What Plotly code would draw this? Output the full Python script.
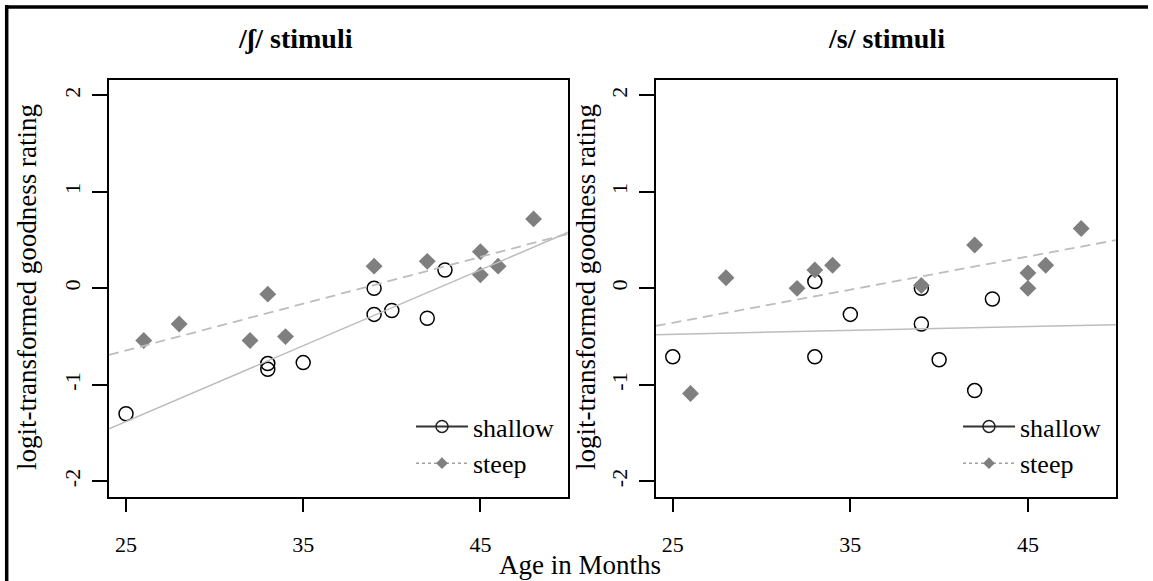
import plotly.graph_objects as go

# ---------------- data ----------------
shallow_age = [25, 33, 33, 35, 39, 39, 40, 42, 43]
shallow_sh = [-1.30, -0.78, -0.84, -0.77, 0.00, -0.27, -0.23, -0.31, 0.19]
shallow_s = [-0.71, 0.07, -0.71, -0.27, 0.00, -0.37, -0.74, -1.06, -0.11]

steep_age = [26, 28, 32, 33, 34, 39, 42, 45, 45, 46, 48]
steep_sh = [-0.54, -0.37, -0.54, -0.06, -0.50, 0.23, 0.28, 0.38, 0.14, 0.23, 0.72]
steep_s = [-1.09, 0.11, 0.00, 0.19, 0.24, 0.03, 0.45, 0.16, 0.00, 0.24, 0.62]

# fitted lines: values at the two ends of the age axis
fit_age = [24.04, 49.96]
fit_shallow_sh = [-1.455, 0.581]
fit_steep_sh = [-0.691, 0.566]
fit_shallow_s = [-0.48, -0.377]
fit_steep_s = [-0.39, 0.50]

x_ticks = [25, 35, 45]
x_tick_labels = ["25", "35", "45"]
y_ticks = [-2, -1, 0, 1, 2]
y_tick_labels = ["-2", "-1", "0", "1", "2"]
panel_titles = ["/ʃ/ stimuli", "/s/ stimuli"]
x_title = "Age in Months"
y_title = "logit-transformed goodness rating"
series_names = ["shallow", "steep"]

# ---------------- styling ----------------
W, H = 1153, 581
FONT = "Liberation Serif, Times New Roman, DejaVu Serif, serif"


def fx(p):
    return p / W


def fy(p):
    return 1 - p / H


fig = go.Figure()

panels = [
    (shallow_sh, steep_sh, fit_shallow_sh, fit_steep_sh, "x", "y", "legend"),
    (shallow_s, steep_s, fit_shallow_s, fit_steep_s, "x2", "y2", "legend2"),
]

for sh_vals, st_vals, fit_sh, fit_st, xa, ya, lg in panels:
    fig.add_trace(go.Scatter(
        x=shallow_age, y=sh_vals, mode="markers", xaxis=xa, yaxis=ya,
        showlegend=False,
        marker=dict(symbol="circle-open", size=14, color="black",
                    line=dict(width=1.5, color="black")),
    ))
    fig.add_trace(go.Scatter(
        x=steep_age, y=st_vals, mode="markers", xaxis=xa, yaxis=ya,
        showlegend=False,
        marker=dict(symbol="diamond", size=13, color="#7f7f7f",
                    line=dict(width=0)),
    ))
    fig.add_trace(go.Scatter(
        x=fit_age, y=fit_sh, mode="lines", xaxis=xa, yaxis=ya,
        showlegend=False, line=dict(color="#bdbdbd", width=1.5),
    ))
    fig.add_trace(go.Scatter(
        x=fit_age, y=fit_st, mode="lines", xaxis=xa, yaxis=ya,
        showlegend=False,
        line=dict(color="#bdbdbd", width=1.8, dash="10px,6px"),
    ))
    # legend-only entries
    fig.add_trace(go.Scatter(
        x=[None], y=[None], mode="lines+markers", xaxis=xa, yaxis=ya,
        name=series_names[0], legend=lg,
        line=dict(color="#333333", width=2),
        marker=dict(symbol="circle-open", size=12, color="#222222",
                    line=dict(width=1.5, color="#222222")),
    ))
    fig.add_trace(go.Scatter(
        x=[None], y=[None], mode="lines+markers", xaxis=xa, yaxis=ya,
        name=series_names[1], legend=lg,
        line=dict(color="#a0a0a0", width=1.5, dash="dot"),
        marker=dict(symbol="diamond", size=9, color="#7f7f7f",
                    line=dict(width=0)),
    ))

xcommon = dict(
    range=[24.04, 49.96], tickvals=x_ticks, ticktext=x_tick_labels,
    ticks="outside", ticklen=14,
    tickwidth=1.5, tickcolor="black", showline=True, linecolor="black",
    linewidth=1.5, mirror=True, showgrid=False, zeroline=False,
    tickfont=dict(family=FONT, size=22, color="black"),
    ticklabelstandoff=13,
)
ycommon = dict(
    range=[-2.16, 2.16], tickvals=y_ticks, ticktext=y_tick_labels,
    ticks="outside", ticklen=15,
    tickwidth=1.5, tickcolor="black", showline=True, linecolor="black",
    linewidth=1.5, mirror=True, showgrid=False, zeroline=False,
    tickangle=-90,
    tickfont=dict(family=FONT, size=22, color="black"),
    ticklabelstandoff=3,
)

y_dom = [fy(496.7), fy(80)]
fig.update_layout(
    width=W, height=H,
    margin=dict(l=0, r=0, t=0, b=0),
    paper_bgcolor="white", plot_bgcolor="white",
    font=dict(family=FONT, color="black"),
    xaxis=dict(domain=[fx(109), fx(568.3)], anchor="y", **xcommon),
    yaxis=dict(domain=y_dom, anchor="x", **ycommon),
    xaxis2=dict(domain=[fx(655.7), fx(1116)], anchor="y2", **xcommon),
    yaxis2=dict(domain=y_dom, anchor="x2", **ycommon),
    legend=dict(x=fx(411), y=fy(403), xanchor="left", yanchor="top",
                bgcolor="rgba(0,0,0,0)", borderwidth=0, itemwidth=52,
                font=dict(family=FONT, size=26, color="black")),
    legend2=dict(x=fx(958), y=fy(403), xanchor="left", yanchor="top",
                 bgcolor="rgba(0,0,0,0)", borderwidth=0, itemwidth=52,
                 font=dict(family=FONT, size=26, color="black")),
)

annotations = [
    dict(text="<b>" + panel_titles[0] + "</b>", x=fx(295), y=fy(38)),
    dict(text="<b>" + panel_titles[1] + "</b>", x=fx(886), y=fy(38)),
]
for a in annotations:
    a.update(xref="paper", yref="paper", showarrow=False,
             xanchor="center", yanchor="middle",
             font=dict(family=FONT, size=28, color="black"))
    fig.add_annotation(**a)

for xc in (27, 586):
    fig.add_annotation(text=y_title, x=fx(xc), y=fy(287), xref="paper",
                       yref="paper", showarrow=False, textangle=-90,
                       xanchor="center", yanchor="middle",
                       font=dict(family=FONT, size=27, color="black"))

fig.add_annotation(text=x_title, x=fx(580), y=fy(565), xref="paper",
                   yref="paper", showarrow=False, xanchor="center",
                   yanchor="middle",
                   font=dict(family=FONT, size=27, color="black"))

# outer frame (top and left edges visible in the reference)
fig.add_shape(type="line", xref="paper", yref="paper",
              x0=fx(5), x1=fx(1148), y0=fy(7), y1=fy(7),
              line=dict(color="black", width=3.5))
fig.add_shape(type="line", xref="paper", yref="paper",
              x0=fx(6.7), x1=fx(6.7), y0=fy(5), y1=fy(581),
              line=dict(color="black", width=3.5))

fig.write_html(
    "out.html",
    config={"displayModeBar": False},
    post_script="document.body.style.margin='0';"
                "document.body.style.overflow='hidden';",
)
